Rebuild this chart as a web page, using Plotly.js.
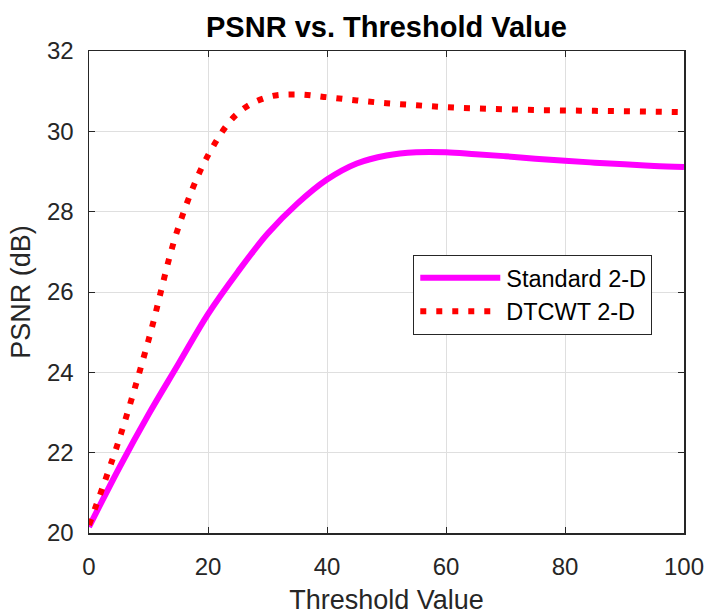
<!DOCTYPE html>
<html>
<head>
<meta charset="utf-8">
<script src="https://cdn.plot.ly/plotly-3.0.1.min.js"></script>
<style>html,body{margin:0;padding:0;background:#fff;}#chart{width:708px;height:615px;}</style>
</head>
<body>
<div id="chart"></div>
<script>
const thresholds = [0,5,10,15,20,25,30,35,40,45,50,55,60,65,70,75,80,85,90,95,100];
const standard2D = [20.15,21.6,22.95,24.2,25.45,26.5,27.45,28.2,28.8,29.2,29.4,29.48,29.48,29.43,29.38,29.32,29.27,29.22,29.18,29.14,29.11];
const dtcwt2D = [20.2,22.3,24.8,27.6,29.4,30.45,30.85,30.92,30.85,30.77,30.7,30.65,30.6,30.57,30.55,30.53,30.52,30.51,30.5,30.49,30.48];
const seriesNames = ['Standard 2-D','DTCWT 2-D'];
const xTicks = [0,20,40,60,80,100];
const yTicks = [20,22,24,26,28,30,32];

const FONT = 'Liberation Sans, Arial, Helvetica, sans-serif';
const AX = '#262626';

const traces = [
  {x: thresholds, y: standard2D, name: seriesNames[0], type: 'scatter', mode: 'lines',
   line: {color: '#ff00ff', width: 6, shape: 'spline', smoothing: 1}},
  {x: thresholds, y: dtcwt2D, name: seriesNames[1], type: 'scatter', mode: 'lines',
   line: {color: '#ff0000', width: 6, shape: 'spline', smoothing: 1, dash: '6px,10px'}}
];

const axisCommon = {
  showline: true, linecolor: AX, linewidth: 1.5, mirror: 'ticks',
  ticks: 'inside', ticklen: 6, tickwidth: 1, tickcolor: AX,
  showgrid: true, gridcolor: '#dfdfdf', gridwidth: 1,
  zeroline: false, tickfont: {family: FONT, size: 24, color: AX}
};

const layout = {
  width: 708, height: 615,
  margin: {l: 89, r: 24, t: 51, b: 82},
  paper_bgcolor: '#ffffff', plot_bgcolor: '#ffffff',
  title: {text: '<b>PSNR vs. Threshold Value</b>', font: {family: FONT, size: 29, color: '#000'},
          xref: 'paper', x: 0.5, xanchor: 'center', yref: 'container', y: 0.957, yanchor: 'middle'},
  xaxis: Object.assign({}, axisCommon, {range: [0, 100], tickvals: xTicks, ticktext: xTicks.map(String),
          ticklabelstandoff: 12,
          title: {text: 'Threshold Value', font: {family: FONT, size: 27, color: AX}, standoff: 11}}),
  yaxis: Object.assign({}, axisCommon, {range: [20, 32], tickvals: yTicks, ticktext: yTicks.map(String),
          ticklabelstandoff: 9,
          title: {text: 'PSNR (dB)', font: {family: FONT, size: 27, color: AX}, standoff: 8}}),
  showlegend: true,
  legend: {x: 0.545, y: 0.577, xanchor: 'left', yanchor: 'top', bgcolor: '#ffffff',
           bordercolor: AX, borderwidth: 1, font: {family: FONT, size: 23.5, color: '#000'},
           tracegroupgap: 0, itemwidth: 82}
};

Plotly.newPlot('chart', traces, layout, {displayModeBar: false, staticPlot: true}).then(function(gd){
  gd.querySelectorAll('.legend .legendlines path').forEach(function(p){
    p.setAttribute('d', 'M6,0h80');
  });
});
</script>
</body>
</html>
